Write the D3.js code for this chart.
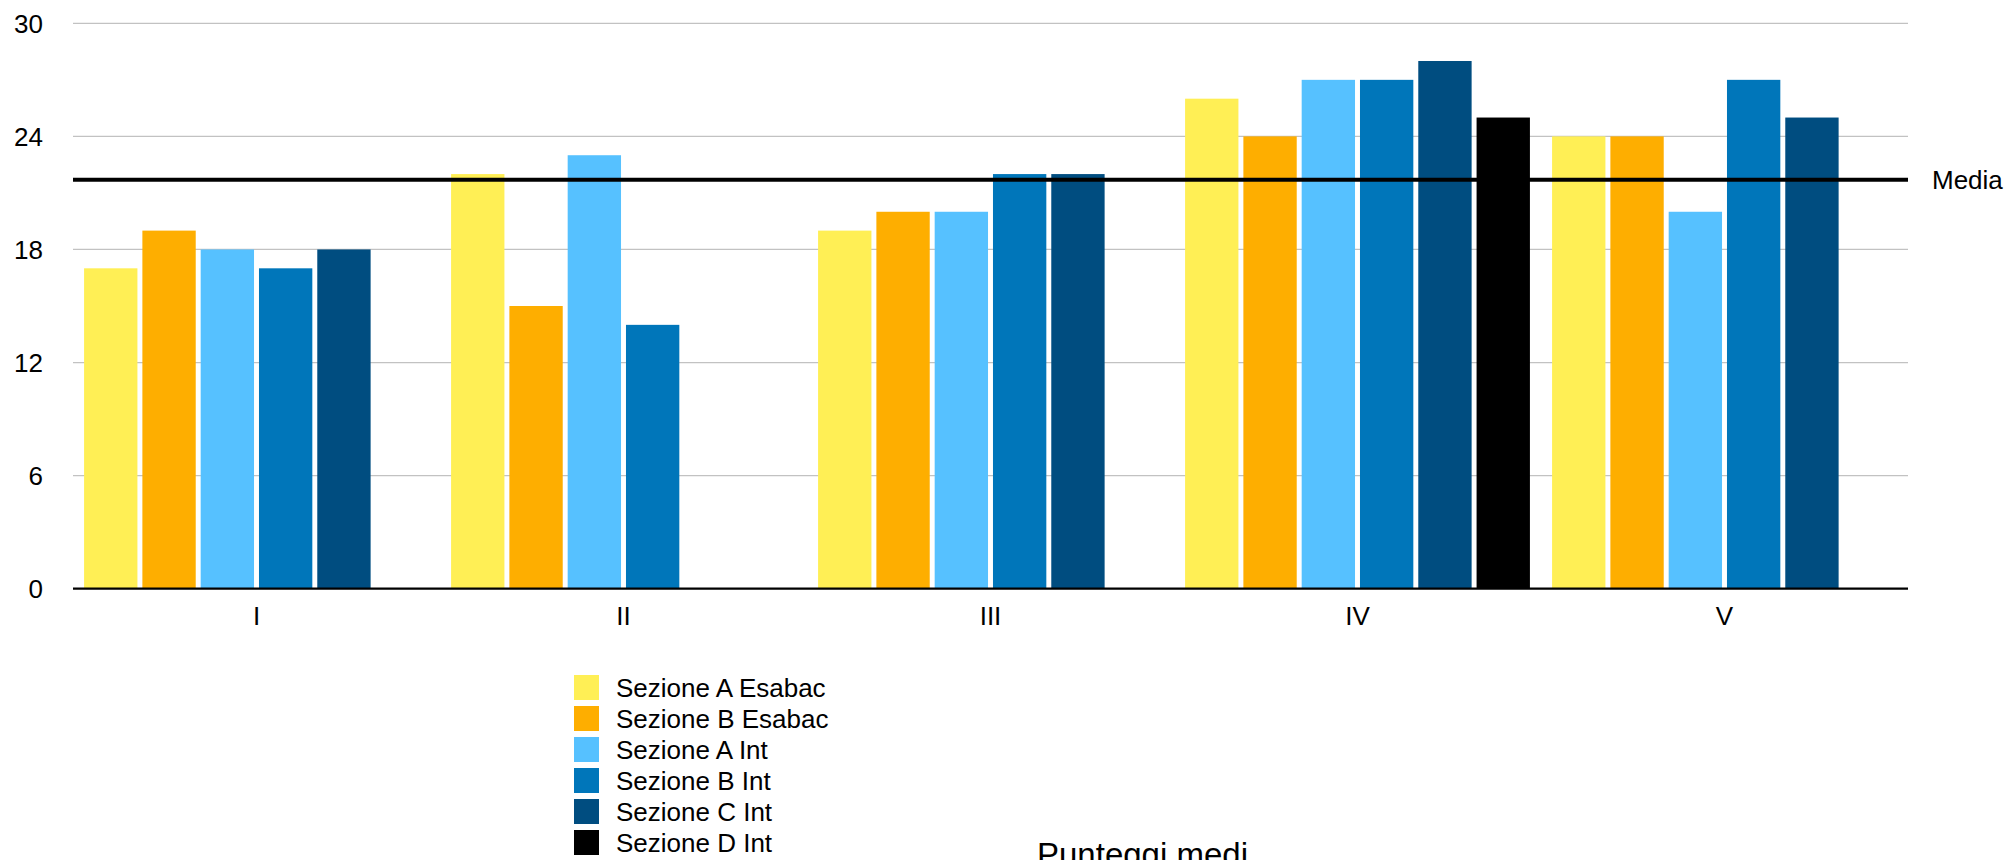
<!DOCTYPE html>
<html>
<head>
<meta charset="utf-8">
<script src="https://cdn.jsdelivr.net/npm/d3@7"></script>
<style>
  html, body { margin: 0; padding: 0; background: #fff; }
  text { font-family: "Liberation Sans", Arial, Helvetica, sans-serif; fill: #000; }
</style>
</head>
<body>
<div id="chart"></div>
<script>
const categories = ["I", "II", "III", "IV", "V"];
const seriesNames = ["Sezione A Esabac", "Sezione B Esabac", "Sezione A Int", "Sezione B Int", "Sezione C Int", "Sezione D Int"];
const seriesColors = ["#FFEF55", "#FEAE00", "#56C1FF", "#0076BA", "#004D80", "#000000"];

// one array per series, values per category (null = no bar)
const sezAEsabac = [17, 22, 19, 26, 24];
const sezBEsabac = [19, 15, 20, 24, 24];
const sezAInt = [18, 23, 20, 27, 20];
const sezBInt = [17, 14, 22, 27, 27];
const sezCInt = [18, null, 22, 28, 25];
const sezDInt = [null, null, null, 25, null];
const seriesValues = [sezAEsabac, sezBEsabac, sezAInt, sezBInt, sezCInt, sezDInt];

const yTicks = [0, 6, 12, 18, 24, 30];
const mediaValue = 21.7;
const mediaLabel = "Media";
const chartTitle = "Punteggi medi";

const width = 2010, height = 860;
const plotLeft = 73, plotRight = 1908, plotTop = 23.3, plotBottom = 588.7;

const svg = d3.select("#chart").append("svg")
    .attr("width", width)
    .attr("height", height);

const x0 = d3.scaleBand()
    .domain(categories)
    .range([plotLeft, plotRight])
    .padding(0);

const x1 = d3.scaleBand()
    .domain(seriesNames)
    .range([0, x0.bandwidth()])
    .paddingInner(0.085)
    .paddingOuter(0.19);

const y = d3.scaleLinear()
    .domain([0, 30])
    .range([plotBottom, plotTop]);

// gridlines
svg.append("g")
    .selectAll("line")
    .data(yTicks.filter(d => d !== 0))
    .join("line")
    .attr("x1", plotLeft)
    .attr("x2", plotRight)
    .attr("y1", d => y(d))
    .attr("y2", d => y(d))
    .attr("stroke", "#c2c2c2")
    .attr("stroke-width", 1.3);

// y labels
svg.append("g")
    .selectAll("text")
    .data(yTicks)
    .join("text")
    .attr("x", 43)
    .attr("y", d => y(d))
    .attr("dy", "0.36em")
    .attr("text-anchor", "end")
    .style("font-size", "26px")
    .text(d => d);

// bars
const bars = [];
seriesNames.forEach((s, i) => {
    seriesValues[i].forEach((v, j) => {
        if (v !== null) bars.push({ series: s, cat: categories[j], value: v, color: seriesColors[i] });
    });
});

svg.append("g")
    .selectAll("rect")
    .data(bars)
    .join("rect")
    .attr("x", d => x0(d.cat) + x1(d.series))
    .attr("y", d => y(d.value))
    .attr("width", x1.bandwidth())
    .attr("height", d => y(0) - y(d.value))
    .attr("fill", d => d.color);

// baseline
svg.append("line")
    .attr("x1", plotLeft)
    .attr("x2", plotRight)
    .attr("y1", y(0))
    .attr("y2", y(0))
    .attr("stroke", "#000")
    .attr("stroke-width", 2.2);

// category labels
svg.append("g")
    .selectAll("text")
    .data(categories)
    .join("text")
    .attr("x", d => x0(d) + x0.bandwidth() / 2)
    .attr("y", 625)
    .attr("text-anchor", "middle")
    .style("font-size", "26px")
    .text(d => d);

// media line
svg.append("line")
    .attr("x1", plotLeft)
    .attr("x2", plotRight)
    .attr("y1", y(mediaValue))
    .attr("y2", y(mediaValue))
    .attr("stroke", "#000")
    .attr("stroke-width", 4.2);

svg.append("text")
    .attr("x", 1932)
    .attr("y", y(mediaValue))
    .attr("dy", "0.36em")
    .style("font-size", "26px")
    .text(mediaLabel);

// legend
const legend = svg.append("g")
    .selectAll("g")
    .data(seriesNames)
    .join("g")
    .attr("transform", (d, i) => `translate(574, ${675 + i * 31})`);

legend.append("rect")
    .attr("width", 25)
    .attr("height", 25)
    .attr("fill", (d, i) => seriesColors[i]);

legend.append("text")
    .attr("x", 42)
    .attr("y", 12.5)
    .attr("dy", "0.36em")
    .style("font-size", "26px")
    .text(d => d);

// title (cut off at bottom edge as in the original)
svg.append("text")
    .attr("x", 1037)
    .attr("y", 866)
    .style("font-size", "33px")
    .text(chartTitle);
</script>
</body>
</html>
